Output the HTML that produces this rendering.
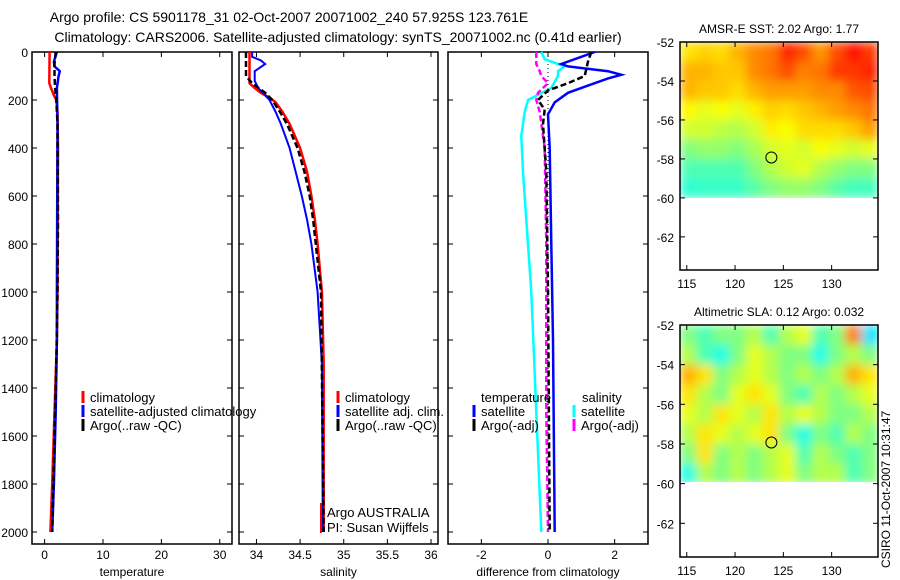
<!DOCTYPE html>
<html><head><meta charset="utf-8"><style>
body{margin:0;background:#fff;}
svg{display:block;font-family:"Liberation Sans",sans-serif;}
</style></head><body>
<svg id="c" width="900" height="580" xmlns="http://www.w3.org/2000/svg">
<defs>
<filter id="blur" x="0" y="0" width="1" height="1"><feGaussianBlur stdDeviation="5" edgeMode="duplicate"/></filter>
<clipPath id="clip1"><rect x="680" y="42" width="198" height="156"/></clipPath>
<clipPath id="clip2"><rect x="680" y="325" width="198" height="157"/></clipPath>
</defs>
<text x="289" y="22" font-size="14" text-anchor="middle">Argo profile: CS 5901178_31 02-Oct-2007 20071002_240 57.925S 123.761E</text>
<text x="338" y="42" font-size="14" text-anchor="middle">Climatology: CARS2006. Satellite-adjusted climatology: synTS_20071002.nc (0.41d earlier)</text>
<g id="g"></g>
</svg>
<script>
// ---- depth profiles ----
const tClimD=[0,130,150,180,200,250,400,1000,1200,1500,1800,2000];
const tClimV=[0.85,0.8,1.1,1.6,2.0,2.2,2.3,2.2,2.1,1.7,1.3,1.0];
const tSatD=[0,40,60,80,100,150,300,1000,1200,1500,1800,2000];
const tSatV=[2.1,1.6,1.7,2.6,2.4,2.1,2.2,2.1,2.1,1.9,1.6,1.3];
const tArgD=[0,50,100,150,200,300,700,1000,1300,1600,2000];
const tArgV=[1.9,1.7,1.7,1.8,2.0,2.2,2.3,2.2,2.0,1.7,1.3];
const sClimD=[0,130,150,170,190,210,250,300,350,400,500,600,700,800,1000,1300,2000];
const sClimV=[33.92,33.92,33.98,34.05,34.15,34.22,34.3,34.38,34.44,34.5,34.58,34.63,34.67,34.7,34.75,34.77,34.77];
const sSatD=[0,20,35,50,80,120,150,200,250,300,400,500,600,700,800,1000,1300,2000];
const sSatV=[33.95,33.95,34.05,34.1,33.98,33.98,34.02,34.15,34.22,34.28,34.38,34.45,34.52,34.58,34.63,34.7,34.75,34.76];
const sArgD=[0,100,130,170,200,250,300,400,500,600,700,800,1000,2000];
const sArgV=[33.88,33.88,33.95,34.1,34.18,34.27,34.35,34.47,34.55,34.61,34.65,34.68,34.74,34.77];
const dTSatD=[0,20,50,60,80,95,110,140,170,210,260,400,800,1200,2000];
const dTSatV=[1.4,1.0,0.4,0.6,1.8,2.2,1.8,1.2,0.6,0.2,0.0,0.05,0.1,0.15,0.2];
const dTArgD=[0,40,100,130,160,200,240,300,500,1000,2000];
const dTArgV=[1.3,1.2,1.1,0.6,0.0,-0.3,-0.1,-0.15,-0.05,0.0,0.05];
const dSSatD=[0,30,60,80,100,150,200,250,350,500,700,1000,1500,2000];
const dSSatV=[-0.2,-0.1,0.5,0.3,0.3,0.1,-0.6,-0.7,-0.8,-0.75,-0.65,-0.5,-0.35,-0.2];
const dSArgD=[0,50,80,100,130,170,200,250,400,800,1500,2000];
const dSArgV=[-0.35,-0.35,-0.25,-0.2,0.0,-0.3,-0.35,-0.25,-0.1,-0.05,-0.05,0.0];
const depthTicks=[0,200,400,600,800,1000,1200,1400,1600,1800,2000];
const tTicks=[0,10,20,30], sTicks=[34,34.5,35,35.5,36], dTicks=[-2,0,2];
// ---- maps (rows lat -52..-60, cols lon 114.3..134.8) ----
const sstGrid=[
[0.65,0.67,0.66,0.7,0.74,0.76,0.84,0.8,0.73,0.8,0.86,0.82],
[0.7,0.7,0.68,0.68,0.74,0.76,0.8,0.75,0.76,0.82,0.82,0.84],
[0.7,0.68,0.68,0.66,0.7,0.72,0.72,0.72,0.74,0.74,0.79,0.8],
[0.63,0.6,0.62,0.6,0.64,0.67,0.66,0.68,0.7,0.72,0.74,0.76],
[0.58,0.58,0.56,0.55,0.58,0.64,0.62,0.66,0.66,0.66,0.68,0.72],
[0.5,0.52,0.52,0.5,0.54,0.58,0.6,0.58,0.62,0.6,0.58,0.6],
[0.45,0.45,0.45,0.45,0.5,0.55,0.58,0.6,0.55,0.52,0.5,0.5],
[0.42,0.43,0.43,0.43,0.46,0.5,0.52,0.52,0.5,0.46,0.44,0.44]];
const slaGrid=[
[0.5,0.45,0.5,0.5,0.55,0.45,0.55,0.6,0.45,0.5,0.75,0.35],
[0.55,0.45,0.4,0.5,0.6,0.55,0.5,0.5,0.4,0.5,0.55,0.5],
[0.7,0.65,0.5,0.55,0.6,0.55,0.5,0.55,0.5,0.55,0.7,0.65],
[0.65,0.55,0.5,0.6,0.65,0.6,0.5,0.45,0.55,0.5,0.55,0.6],
[0.6,0.55,0.65,0.6,0.55,0.65,0.55,0.6,0.55,0.5,0.5,0.55],
[0.55,0.65,0.6,0.55,0.6,0.65,0.5,0.4,0.5,0.45,0.55,0.5],
[0.5,0.65,0.5,0.55,0.5,0.55,0.6,0.45,0.55,0.5,0.45,0.5],
[0.4,0.55,0.5,0.55,0.5,0.55,0.6,0.5,0.55,0.55,0.45,0.5]];
const lonTicks=[115,120,125,130], latTicks=[-52,-54,-56,-58,-60,-62];
const argoLon=123.761, argoLat=-57.925;

const NS='http://www.w3.org/2000/svg';
const G=document.getElementById('g');
function mk(tag,attrs,parent){const e=document.createElementNS(NS,tag);for(const k in attrs)e.setAttribute(k,attrs[k]);(parent||G).appendChild(e);return e;}
function txt(x,y,s,size,anchor,name){const t=mk('text',{x:x,y:y,'font-size':size,'text-anchor':anchor||'start'});t.textContent=s;


return t;}
const Y0=52, Y1=544, yD=d=>52+d*0.24;
const panels=[
 {x0:32,x1:232,min:-2.16,max:32.1,ticks:tTicks,label:'temperature',name:'temperature'},
 {x0:239,x1:438,min:33.8,max:36.08,ticks:sTicks,label:'salinity',name:'salinity'},
 {x0:448,x1:648,min:-3,max:3,ticks:dTicks,label:'difference from climatology',name:'difference'}];
panels.forEach(p=>{p.sx=v=>p.x0+(v-p.min)/(p.max-p.min)*(p.x1-p.x0);});
function line(p,D,V,col,w,dash,name){
 const pts=D.map((d,i)=>p.sx(V[i]).toFixed(1)+','+yD(d).toFixed(1)).join(' ');
 const l=mk('polyline',{points:pts,fill:'none',stroke:col,'stroke-width':w});
 if(dash)l.setAttribute('stroke-dasharray',dash);
 
 
}
panels.forEach((p,pi)=>{
 const f=mk('rect',{x:p.x0,y:Y0,width:p.x1-p.x0,height:Y1-Y0,fill:'none',stroke:'#000','stroke-width':1.5});
 
 
 p.ticks.forEach(t=>{const x=p.sx(t);
  mk('line',{x1:x,x2:x,y1:Y1,y2:Y1-5,stroke:'#000'});mk('line',{x1:x,x2:x,y1:Y0,y2:Y0+5,stroke:'#000'});
  txt(x,559,String(t),12,'middle',p.name+'-x-tick-label');});
 depthTicks.forEach(d=>{const y=yD(d);
  mk('line',{x1:p.x0,x2:p.x0+5,y1:y,y2:y,stroke:'#000'});mk('line',{x1:p.x1,x2:p.x1-5,y1:y,y2:y,stroke:'#000'});
  if(pi===0)txt(28,y+5,String(d),12,'end','depth-tick-label');});
 txt((p.x0+p.x1)/2,576,p.label,12,'middle',p.name+'-x-axis-title');
});
const [P1,P2,P3]=panels;
line(P1,tClimD,tClimV,'#f00',2.5,null,'temp-climatology-line');
line(P1,tSatD,tSatV,'#00f',2.5,null,'temp-satellite-line');
line(P1,tArgD,tArgV,'#000',2.5,'6,3','temp-argo-line');
line(P2,sClimD,sClimV,'#f00',2.5,null,'sal-climatology-line');
line(P2,sSatD,sSatV,'#00f',2,null,'sal-satellite-line');
line(P2,sArgD,sArgV,'#000',2.5,'6,3','sal-argo-line');
const z=P3.sx(0);mk('line',{x1:z,x2:z,y1:Y0,y2:yD(2000),stroke:'#000','stroke-width':1,'stroke-dasharray':'1,3'});
line(P3,dSSatD,dSSatV,'#0ff',2.5,null,'diff-sal-satellite-line');
line(P3,dSArgD,dSArgV,'#f0f',2.5,'6,3','diff-sal-argo-line');
line(P3,dTSatD,dTSatV,'#00f',2.5,null,'diff-temp-satellite-line');
line(P3,dTArgD,dTArgV,'#000',2.5,'6,3','diff-temp-argo-line');
function leg(x,y,col,s,name){mk('line',{x1:x,x2:x,y1:y-11,y2:y+1,stroke:col,'stroke-width':3});txt(x+7,y,s,13,'start',name);}
leg(83,402,'#f00','climatology','legend-climatology');
leg(83,416,'#00f','satellite-adjusted climatology','legend-satellite');
leg(83,430,'#000','Argo(..raw -QC)','legend-argo');
leg(338,402,'#f00','climatology','legend2-climatology');
leg(338,416,'#00f','satellite adj. clim.','legend2-satellite');
leg(338,430,'#000','Argo(..raw -QC)','legend2-argo');
txt(481,402,'temperature',13,'start','legend3-temperature-heading');
leg(474,416,'#00f','satellite','legend3-temp-satellite');
leg(474,430,'#000','Argo(-adj)','legend3-temp-argo');
txt(582,402,'salinity',13,'start','legend3-salinity-heading');
leg(574,416,'#0ff','satellite','legend3-sal-satellite');
leg(574,430,'#f0f','Argo(-adj)','legend3-sal-argo');
mk('line',{x1:321,x2:321,y1:503,y2:533,stroke:'#f00','stroke-width':2});
txt(327,517,'Argo AUSTRALIA',13,'start','argo-australia-label');
txt(327,532,'PI: Susan Wijffels',13,'start','pi-label');

// ---- maps ----
function jet(v){const r=Math.min(Math.max(Math.min(4*v-1.5,-4*v+4.5),0),1),g=Math.min(Math.max(Math.min(4*v-0.5,-4*v+3.5),0),1),b=Math.min(Math.max(Math.min(4*v+0.5,-4*v+2.5),0),1);
 return 'rgb('+Math.round(r*255)+','+Math.round(g*255)+','+Math.round(b*255)+')';}
function map(top,bottom,grid,title,name,clip){
 const x0=680,x1=878,lon0=114.3,lon1=134.8,lat0=-52,lat1=-63.7;
 const sx=l=>x0+(l-lon0)/(lon1-lon0)*(x1-x0), sy=l=>top+(l-lat0)/(lat1-lat0)*(bottom-top);
 const rows=grid.length, cols=grid[0].length;
 const cg=mk('g',{'clip-path':'url(#'+clip+')'});
 const bg=mk('g',{filter:'url(#blur)'},cg);
 grid.forEach((row,i)=>row.forEach((v,j)=>{
  const lx=lon0+(lon1-lon0)*j/cols, lx2=lon0+(lon1-lon0)*(j+1)/cols;
  const r=mk('rect',{x:sx(lx).toFixed(1),y:sy(-52-8*i/rows).toFixed(1),width:(sx(lx2)-sx(lx)+0.6).toFixed(1),height:(sy(-52-8*(i+1)/rows)-sy(-52-8*i/rows)+0.6).toFixed(1),fill:jet(v)},bg);
  
  
 }));
 const f=mk('rect',{x:x0,y:top,width:x1-x0,height:bottom-top,fill:'none',stroke:'#000','stroke-width':1.5});
 
 
 lonTicks.forEach(l=>{const x=sx(l);mk('line',{x1:x,x2:x,y1:top,y2:top+5,stroke:'#000'});mk('line',{x1:x,x2:x,y1:bottom,y2:bottom-5,stroke:'#000'});
  txt(x,bottom+18,String(l),12,'middle',name+'-lon-label');});
 latTicks.forEach(l=>{const y=sy(l);mk('line',{x1:x0,x2:x0+5,y1:y,y2:y,stroke:'#000'});mk('line',{x1:x1,x2:x1-5,y1:y,y2:y,stroke:'#000'});
  txt(x0-6,y+5,String(l),12,'end',name+'-lat-label');});
 txt((x0+x1)/2,top-9,title,12,'middle',name+'-title');
 const c=mk('circle',{cx:sx(argoLon),cy:sy(argoLat),r:5.5,fill:'none',stroke:'#000','stroke-width':1});
 
 
}
map(42,270,sstGrid,'AMSR-E SST: 2.02 Argo: 1.77','sst-map','clip1');
map(325,557,slaGrid,'Altimetric SLA: 0.12 Argo: 0.032','sla-map','clip2');
const cs=txt(0,0,'CSIRO 11-Oct-2007 10:31:47',12,'start','timestamp-label');
cs.setAttribute('transform','translate(890,568) rotate(-90)');
</script>
</body></html>
